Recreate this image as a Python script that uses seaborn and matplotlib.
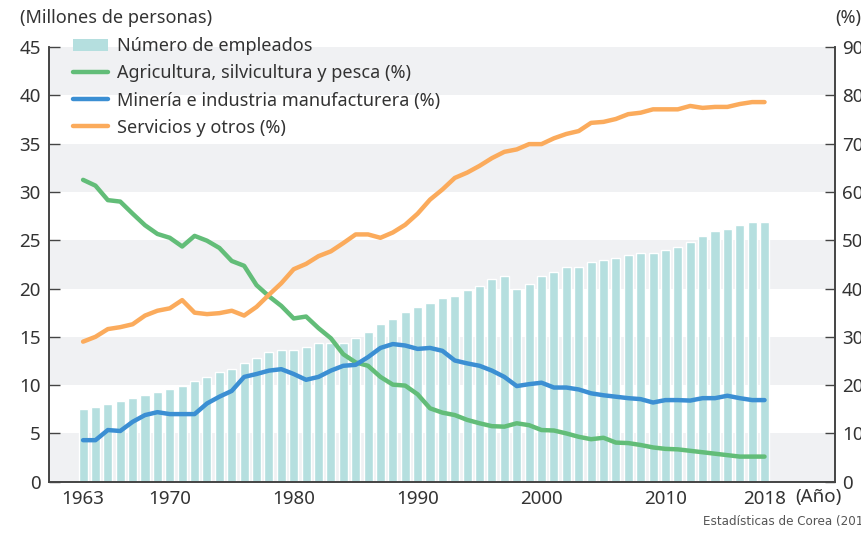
import matplotlib
matplotlib.use("Agg")
import matplotlib.pyplot as plt
from matplotlib.patches import Patch
from matplotlib.lines import Line2D
from matplotlib.ticker import FixedLocator, FuncFormatter
import seaborn as sns
import pandas as pd

years = list(range(1963, 2019))

# número de empleados (millones)
employed = [7.52, 7.73, 8.03, 8.35, 8.66, 8.97, 9.28, 9.59, 9.90, 10.42,
            10.83, 11.35, 11.66, 12.28, 12.80, 13.42, 13.60, 13.60, 13.90, 14.35,
            14.35, 14.35, 14.90, 15.50, 16.30, 16.80, 17.55, 18.10, 18.50, 19.00,
            19.20, 19.80, 20.25, 20.95, 21.30, 19.90, 20.45, 21.30, 21.70, 22.20,
            22.20, 22.70, 23.00, 23.15, 23.45, 23.65, 23.65, 24.00, 24.30, 24.80,
            25.40, 26.00, 26.20, 26.55, 26.90, 26.90]

# porcentajes por sector
agri = [62.5, 61.3, 58.3, 58.0, 55.5, 53.1, 51.3, 50.5, 48.7, 50.9,
        49.9, 48.4, 45.7, 44.7, 40.7, 38.4, 36.4, 33.8, 34.2, 31.8,
        29.7, 26.4, 24.7, 24.0, 21.7, 20.1, 19.9, 18.1, 15.2, 14.3,
        13.8, 12.8, 12.1, 11.5, 11.4, 12.1, 11.7, 10.7, 10.6, 10.0,
        9.3, 8.8, 9.1, 8.1, 8.0, 7.6, 7.1, 6.8, 6.7, 6.4,
        6.1, 5.8, 5.5, 5.2, 5.2, 5.2]
mining = [8.6, 8.6, 10.7, 10.5, 12.4, 13.8, 14.4, 14.0, 14.0, 14.0,
          16.2, 17.6, 18.8, 21.7, 22.3, 23.0, 23.3, 22.3, 21.1, 21.7,
          23.0, 24.0, 24.2, 25.8, 27.7, 28.5, 28.2, 27.5, 27.7, 27.1,
          25.1, 24.5, 24.0, 23.0, 21.7, 19.8, 20.2, 20.5, 19.5, 19.5,
          19.1, 18.3, 17.9, 17.6, 17.3, 17.1, 16.4, 16.9, 16.9, 16.8,
          17.3, 17.3, 17.8, 17.3, 16.9, 16.9]
services = [29.0, 30.0, 31.6, 32.0, 32.6, 34.4, 35.4, 35.9, 37.6, 35.0,
            34.7, 34.9, 35.4, 34.4, 36.2, 38.7, 41.1, 44.0, 45.1, 46.7,
            47.7, 49.4, 51.2, 51.2, 50.5, 51.6, 53.2, 55.5, 58.4, 60.5,
            62.9, 64.0, 65.4, 67.0, 68.3, 68.8, 69.9, 69.9, 71.1, 72.0,
            72.6, 74.3, 74.5, 75.1, 76.1, 76.4, 77.1, 77.1, 77.1, 77.8,
            77.4, 77.6, 77.6, 78.2, 78.6, 78.6]

labels = ["Número de empleados",
          "Agricultura, silvicultura y pesca (%)",
          "Minería e industria manufacturera (%)",
          "Servicios y otros (%)"]
colors = ["#b5dfdf", "#62bd78", "#3b8fd3", "#fbab5c"]

df = pd.DataFrame({"year": years, "employed": employed, "agri": agri,
                   "mining": mining, "services": services})

sns.set_style("white")
plt.rcParams["font.family"] = ["Noto Sans", "DejaVu Sans"]
txt = "#333333"

fig = plt.figure(figsize=(8.61, 5.35), dpi=100)
ax = fig.add_axes([0.0569, 0.0996, 0.9131, 0.8125])
ax2 = ax.twinx()

# bandas grises
for lo in range(0, 45, 10):
    ax.axhspan(lo, lo + 5, color="#f0f1f3", zorder=0, lw=0)

sns.barplot(data=df, x="year", y="employed", native_scale=True, width=0.73,
            color=colors[0], saturation=1, ax=ax, zorder=2)

for col, c in zip(["agri", "mining", "services"], colors[1:]):
    sns.lineplot(data=df, x="year", y=col, ax=ax2, color=c, lw=3.2)

ax.set_xlim(1960.25, 2023.7)
ax.set_ylim(0, 45)
ax2.set_ylim(0, 90)
ax.set_yticks(range(0, 46, 5))
ax2.set_yticks(range(0, 91, 10))
ax.set_xlabel("")
ax.set_ylabel("")
ax2.set_ylabel("")

ax.xaxis.set_major_locator(FixedLocator([1970, 1980, 1990, 2000, 2010]))
ax.xaxis.set_minor_locator(FixedLocator(years))
ax.xaxis.set_major_formatter(FuncFormatter(lambda v, p: f"{int(round(v))}"))
ax.xaxis.set_minor_formatter(FuncFormatter(
    lambda v, p: f"{int(round(v))}" if int(round(v)) in (1963, 2018) else ""))

ax.tick_params(axis="x", which="major", direction="in", length=7, width=1,
               color="#444444", labelsize=13.5, labelcolor=txt, pad=6)
ax.tick_params(axis="x", which="minor", direction="in", length=4, width=1,
               color="#444444", labelsize=13.5, labelcolor=txt, pad=6)
ax.tick_params(axis="y", direction="in", length=8, width=1, color="#444444",
               labelsize=13.5, labelcolor=txt, pad=6, left=True)
ax2.tick_params(axis="y", direction="in", length=7, width=1, color="#444444",
                labelsize=13.5, labelcolor=txt, pad=5, right=True)

for a in (ax, ax2):
    a.spines["top"].set_visible(False)
    for s in ("left", "right", "bottom"):
        a.spines[s].set_color("#444444")
        a.spines[s].set_linewidth(1.2)
ax.grid(False)
ax2.grid(False)

handles = [Patch(facecolor=colors[0], edgecolor="none")] + \
          [Line2D([0], [0], color=c, lw=3.2) for c in colors[1:]]
ax2.legend(handles, labels, loc="upper left", bbox_to_anchor=(0.031, 1.022),
           frameon=False, fontsize=13, handlelength=1.9, handletextpad=0.5,
           labelspacing=0.5, borderpad=0, borderaxespad=0, labelcolor=txt)

fig.text(20 / 861, 1 - 18 / 535, "(Millones de personas)", fontsize=13,
         color=txt, va="center", ha="left")
fig.text(835 / 861, 1 - 18 / 535, "(%)", fontsize=13, color=txt,
         va="center", ha="left")
fig.text(795 / 861, 1 - 497 / 535, "(Año)", fontsize=13.5, color=txt,
         va="center", ha="left")
fig.text(703 / 861, 1 - 522 / 535, "Estadísticas de Corea (2019)",
         fontsize=9.5, color="#555555", va="center", ha="left",
         family="DejaVu Sans", fontstretch="condensed")

fig.savefig("out.png", dpi=100)
